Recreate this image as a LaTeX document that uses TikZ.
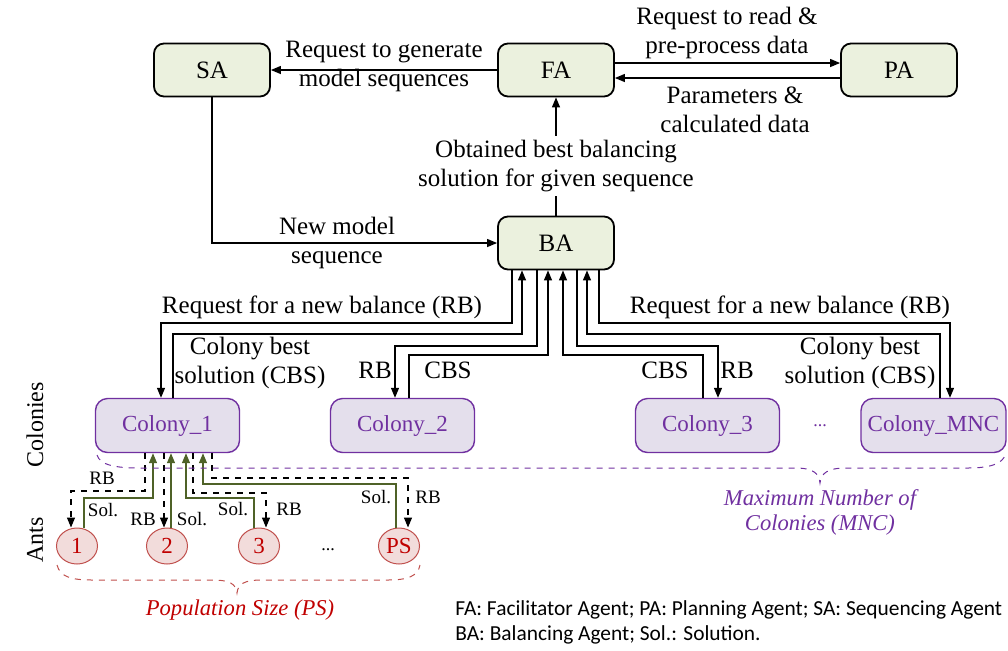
\documentclass[tikz,border=0pt]{standalone}
\usepackage{fontspec}
\setmainfont{Liberation Serif}
\setsansfont{Carlito}
\usetikzlibrary{arrows.meta,shapes.geometric}
\definecolor{agentfill}{HTML}{EBF1DE}
\definecolor{colfill}{HTML}{E4DFEC}
\definecolor{coldraw}{HTML}{7030A0}
\definecolor{antfill}{HTML}{F2DCDB}
\definecolor{antdraw}{HTML}{C0504D}
\definecolor{anttext}{HTML}{C00000}
\definecolor{solgreen}{HTML}{4F6228}
\begin{document}
\begin{tikzpicture}[x=0.5pt, y=-0.5pt,
    agent/.style={draw, line width=0.9pt, rounded corners=5pt, fill=agentfill,
        minimum width=58pt, minimum height=26.5pt, font=\rmfamily\fontsize{12.5}{14.5}\selectfont},
    colony/.style={draw=coldraw, line width=0.7pt, rounded corners=6pt, fill=colfill,
        text=coldraw, minimum width=72pt, minimum height=27pt, font=\rmfamily\fontsize{11.5}{13}\selectfont},
    ant/.style={ellipse, draw=antdraw, line width=0.5pt, fill=antfill, text=anttext,
        minimum width=20.5pt, minimum height=18pt, inner sep=0pt, font=\rmfamily\fontsize{11.5}{13}\selectfont},
    lbl/.style={align=center, inner sep=0pt, font=\rmfamily\fontsize{12.5}{14.5}\selectfont},
    small/.style={inner sep=0pt, font=\rmfamily\fontsize{9.5}{11}\selectfont},
    arr/.style={line width=0.6pt, -{Triangle[length=5pt,width=4pt]}},
    rb/.style={arr, dashed},
    sol/.style={arr, solgreen},
]
\useasboundingbox (0,0) rectangle (1008,650);

\node[agent] (SA) at (212,70) {SA};
\node[agent] (FA) at (556,70) {FA};
\node[agent] (PA) at (899,70) {PA};
\node[agent] (BA) at (556,243) {BA};

\node[colony] (C1) at (167.5,425.5) {Colony\_1};
\node[colony] (C2) at (402.5,425.5) {Colony\_2};
\node[colony] (C3) at (707.5,425.5) {Colony\_3};
\node[colony] (CM) at (933.5,425.5) {Colony\_MNC};
\node[text=coldraw, inner sep=0pt, font=\rmfamily\small] (cdots) at (820,426) {...};

\node[ant] (A1) at (77,546) {1};
\node[ant] (A2) at (167,546) {2};
\node[ant] (A3) at (259,546) {3};
\node[ant] (AP) at (399,546) {PS};
\node[inner sep=0pt, font=\rmfamily\small] (adots) at (328,550) {...};

\node[rotate=90, font=\rmfamily\fontsize{12}{14}\selectfont] (ylc) at (35,425) {Colonies};
\node[rotate=90, font=\rmfamily\fontsize{12}{14}\selectfont] (yla) at (35,540) {Ants};

\draw[arr] (FA) -- (SA);
\draw[arr] (FA.east |- 0,63) -- (PA.west |- 0,63);
\draw[arr] (PA.west |- 0,78) -- (FA.east |- 0,78);
\draw[arr] (BA) -- (FA);
\draw[arr] (SA) |- (BA);

\node[lbl] (rgen) at (384,66) {Request to generate\\model sequences};
\node[lbl] (rread) at (727,33) {Request to read \&\\pre-process data};
\node[lbl] (pars) at (735,110) {Parameters \&\\calculated data};
\node[lbl, fill=white, inner ysep=2pt] (obt) at (556,166) {Obtained best balancing\\solution for given sequence};
\node[lbl] (nms) at (337,243) {New model\\sequence};

\draw[arr] (BA.south -| 512,0) |- (161,323) -- (161,0 |- C1.north);
\draw[arr] (173,0 |- C1.north) |- (522,334) -- (BA.south -| 522,0);
\draw[arr] (BA.south -| 537,0) |- (395,346) -- (395,0 |- C2.north);
\draw[arr] (409,0 |- C2.north) |- (548,355) -- (BA.south -| 548,0);
\draw[arr] (703,0 |- C3.north) |- (563,355) -- (BA.south -| 563,0);
\draw[arr] (BA.south -| 577,0) |- (718,346) -- (718,0 |- C3.north);
\draw[arr] (940,0 |- CM.north) |- (587,334) -- (BA.south -| 587,0);
\draw[arr] (BA.south -| 599,0) |- (950,323) -- (950,0 |- CM.north);

\node[lbl] (rbl) at (322,307) {Request for a new balance (RB)};
\node[lbl] (rbr) at (790,307) {Request for a new balance (RB)};
\node[lbl] (cbl) at (250,363) {Colony best\\solution (CBS)};
\node[lbl] (cbr) at (860,363) {Colony best\\solution (CBS)};
\node[lbl] (rb2) at (375,370) {RB};
\node[lbl] (cb2) at (448,370) {CBS};
\node[lbl] (cb3) at (665,370) {CBS};
\node[lbl] (rb3) at (737,370) {RB};

\draw[rb] (145,0 |- C1.south) |- (71,491) -- (71,0 |- A1.north);
\draw[sol] (84,0 |- A1.north) |- (153,498) -- (153,0 |- C1.south);
\draw[rb] (164,0 |- C1.south) -- (164,0 |- A2.north);
\draw[sol] (171,0 |- A2.north) -- (171,0 |- C1.south);
\draw[rb] (193,0 |- C1.south) |- (266,493) -- (266,0 |- A3.north);
\draw[sol] (254,0 |- A3.north) |- (186,498) -- (186,0 |- C1.south);
\draw[rb] (212,0 |- C1.south) |- (408,478) -- (408,0 |- AP.north);
\draw[sol] (396,0 |- AP.north) |- (203,484) -- (203,0 |- C1.south);

\node[small] (rb1) at (102,478) {RB};
\node[small] (so1) at (103,510) {Sol.};
\node[small] (rba2) at (143,519) {RB};
\node[small] (so2) at (192,519) {Sol.};
\node[small] (so3) at (233,509) {Sol.};
\node[small] (rba3) at (289,509) {RB};
\node[small] (sop) at (376,497) {Sol.};
\node[small] (rbp) at (428,497) {RB};

\draw[antdraw, dashed, line width=0.5pt]
    (57,565) .. controls (60,577) and (72,580) .. (92,580) -- (212,580)
    .. controls (230,580) and (236,584) .. (237,593)
    .. controls (238,584) and (244,580) .. (262,580) -- (388,580)
    .. controls (408,580) and (418,576) .. (420,565);
\node[text=anttext, font=\rmfamily\fontsize{11.3}{13}\itshape] (psz) at (240,610) {Population Size (PS)};

\draw[coldraw, dashed, line width=0.5pt]
    (97,455) .. controls (100,465) and (115,468) .. (140,468) -- (795,468)
    .. controls (813,468) and (819,473) .. (820,483)
    .. controls (821,473) and (828,468) .. (846,468) -- (968,468)
    .. controls (994,468) and (1003,462) .. (1005,455);
\node[text=coldraw, align=center, font=\rmfamily\fontsize{11.3}{12.5}\itshape] (mnc) at (820,512) {Maximum Number of\\Colonies (MNC)};

\node[anchor=west, align=left, inner sep=0pt, font=\sffamily\fontsize{10.7}{12.5}\selectfont] (notes) at (455,622)
    {FA: Facilitator Agent; PA: Planning Agent; SA: Sequencing Agent\\BA: Balancing Agent; Sol.: Solution.};
\end{tikzpicture}
\end{document}
